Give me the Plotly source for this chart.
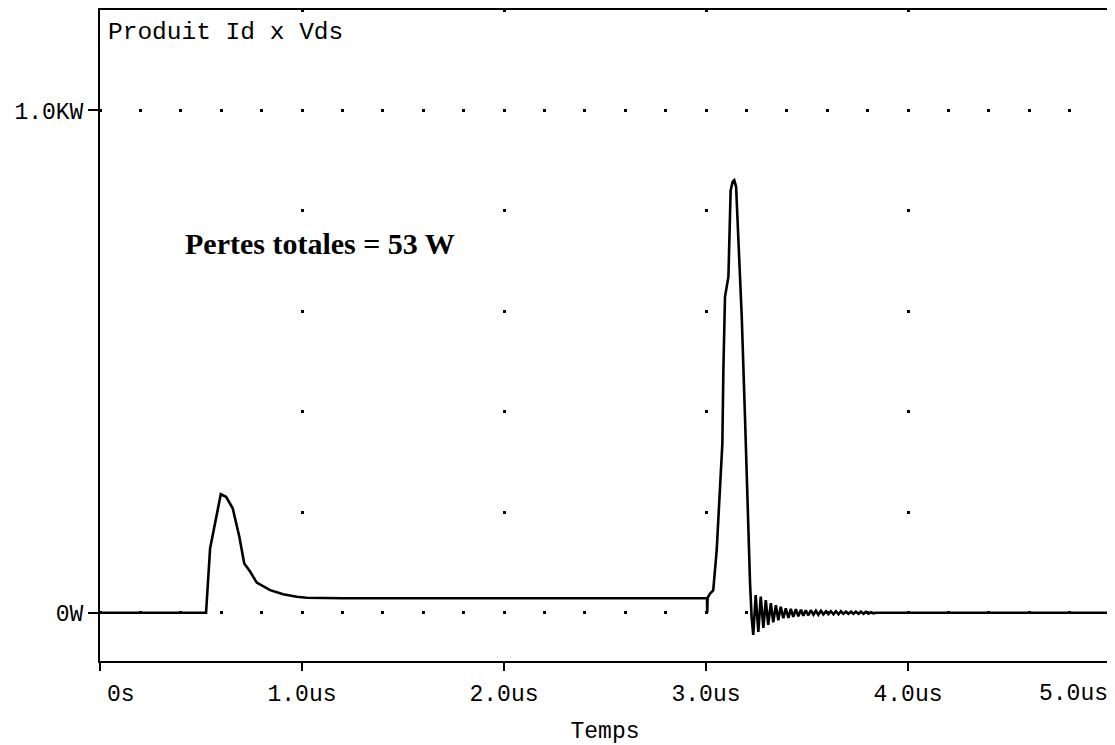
import plotly.graph_objects as go

# ---- data (time in microseconds, power in watts) ----
t_off = [0.0, 0.52]
p_off = [0, 0]

t_pulse1 = [0.525, 0.545, 0.573, 0.598, 0.624, 0.657, 0.690, 0.714, 0.743, 0.776, 0.842, 0.907, 0.974, 1.023]
p_pulse1 = [0, 128, 184, 236, 231, 208, 151, 98, 82, 60, 45, 37, 32, 30]

t_plateau = [1.2, 2.0, 3.0, 3.005, 3.006, 3.008]
p_plateau = [29, 29, 29, 29, 0, 30]

t_pulse2 = [3.020, 3.036, 3.053, 3.069, 3.081, 3.086, 3.094, 3.111, 3.122, 3.132, 3.140,
            3.149, 3.160, 3.177, 3.193, 3.206, 3.218, 3.226]
p_pulse2 = [38, 45, 125, 257, 337, 483, 629, 669, 841, 858, 861,
            848, 755, 589, 390, 191, 59, -10]

t_ring = [3.234, 3.246, 3.259, 3.271, 3.284, 3.296, 3.308, 3.321, 3.333, 3.346,
          3.358, 3.370, 3.383, 3.395, 3.408, 3.420, 3.432, 3.445, 3.457, 3.470,
          3.482, 3.494, 3.507, 3.519, 3.532, 3.544, 3.556, 3.569, 3.581, 3.594,
          3.606, 3.618, 3.631, 3.643, 3.656, 3.668, 3.680, 3.693, 3.705, 3.718,
          3.730, 3.742, 3.755, 3.767, 3.780, 3.792, 3.804, 3.817, 3.829]
p_ring = [-44, 35, -38, 32, -30, 25, -24, 19, -19, 15,
          -15, 12, -11, 9, -10, 8, -8, 7, -7, 6,
          -6, 5, -5, 5, -4, 4, -4, 4, -3, 3,
          -3, 3, -3, 3, -3, 3, -2, 2, -2, 2,
          -2, 2, -2, 2, -2, 2, -2, 1, -1]

t_end = [3.84, 5.0]
p_end = [0, 0]

x_tickvals = [0, 1, 2, 3, 4, 5]
x_ticktext = ["\u00a0\u00a0\u00a00s", "1.0us", "2.0us", "3.0us", "4.0us", ""]
x_last_label = "5.0us"
y_tickvals = [0, 1000]
y_ticktext = ["0W", "1.0KW"]

time_us = t_off + t_pulse1 + t_plateau + t_pulse2 + t_ring + t_end
power_w = p_off + p_pulse1 + p_plateau + p_pulse2 + p_ring + p_end

MONO = "Liberation Mono"

fig = go.Figure()
fig.add_trace(go.Scatter(
    x=time_us, y=power_w, mode="lines",
    line=dict(color="black", width=2.6),
    showlegend=False, hoverinfo="skip",
))

# page body has an 8px margin; offsets below compensate for it
fig.update_layout(
    width=1107, height=737,
    margin=dict(l=92, r=5, t=2, b=84, autoexpand=False),
    paper_bgcolor="white", plot_bgcolor="white",
    font=dict(family=MONO, size=23, color="black"),
    showlegend=False,
)

fig.update_xaxes(
    range=[0, 5], automargin=False,
    tickmode="array", tickvals=x_tickvals, ticktext=x_ticktext,
    ticks="outside", ticklen=8, tickwidth=2, tickcolor="black",
    tickfont=dict(family=MONO, size=23, color="black"),
    ticklabelstandoff=2, ticklabeloverflow="allow",
    showline=True, linewidth=2, linecolor="black", mirror=True,
    showgrid=True, gridcolor="black", gridwidth=3,
    griddash="1.5px,97.46px,1.5px,0px",
    zeroline=False,
    title=dict(text="Temps", font=dict(family=MONO, size=23, color="black"), standoff=17),
)

fig.update_yaxes(
    range=[-96, 1200], automargin=False,
    tickmode="array", tickvals=y_tickvals, ticktext=y_ticktext,
    ticks="outside", ticklen=10, tickwidth=2, tickcolor="black",
    tickfont=dict(family=MONO, size=23, color="black"),
    ticklabelstandoff=0, ticklabeloverflow="allow",
    showline=True, linewidth=2, linecolor="black", mirror=True,
    showgrid=True, gridcolor="black", gridwidth=3,
    griddash="1.5px,37.4px,1.5px,0px",
    zeroline=False,
)

# last x tick label, kept inside the page like the original
fig.add_annotation(
    text=x_last_label, xref="x", yref="paper",
    x=x_tickvals[-1], y=-0.05, xanchor="right", yanchor="middle", showarrow=False,
    font=dict(family=MONO, size=23, color="black"),
)
fig.add_annotation(
    text="Produit Id x Vds", xref="paper", yref="paper",
    x=0.006, y=0.966, xanchor="left", yanchor="middle", showarrow=False,
    font=dict(family=MONO, size=24.5, color="black"),
)
fig.add_annotation(
    text="<b>Pertes totales = 53 W</b>", xref="x", yref="y",
    x=0.411, y=736, xanchor="left", yanchor="middle", showarrow=False,
    font=dict(family="Liberation Serif", size=30, color="black"),
)

fig.write_html("out.html")
